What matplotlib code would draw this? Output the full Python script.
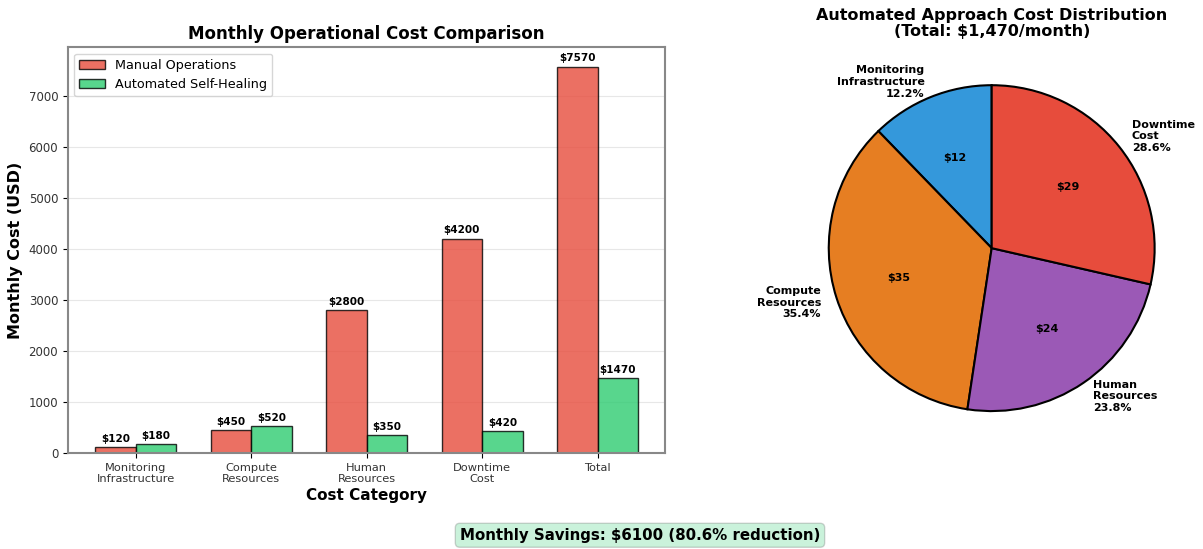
import numpy as np
import matplotlib.pyplot as plt

categories = ['Monitoring\nInfrastructure', 'Compute\nResources', 'Human\nResources', 'Downtime\nCost', 'Total']
manual = [120, 450, 2800, 4200, 7570]
automated = [180, 520, 350, 420, 1470]

pie_labels = ['Monitoring\nInfrastructure', 'Compute\nResources', 'Human\nResources', 'Downtime\nCost']
pie_values = [180, 520, 350, 420]
pie_colors = ['#3498db', '#e67e22', '#9b59b6', '#e74c3c']

fig = plt.figure(figsize=(12.03, 5.49), dpi=100)

# bar chart
ax1 = fig.add_axes([0.0565, 0.175, 0.4965, 0.739])
x = np.arange(len(categories))
w = 0.35
b1 = ax1.bar(x - w/2, manual, w, label='Manual Operations', color='#e74c3c', alpha=0.8,
             edgecolor='black', linewidth=1)
b2 = ax1.bar(x + w/2, automated, w, label='Automated Self-Healing', color='#2ecc71', alpha=0.8,
             edgecolor='black', linewidth=1)
for bars in (b1, b2):
    for b in bars:
        h = b.get_height()
        ax1.text(b.get_x() + b.get_width()/2, h + 60, f'${h:.0f}', ha='center', va='bottom',
                 fontsize=7.5, fontweight='bold')

ax1.set_xticks(x)
ax1.set_xticklabels(categories, fontsize=8.2, color='#333333', linespacing=1.15)
ax1.tick_params(axis='y', labelsize=8.5, labelcolor='#333333')
ax1.set_xlabel('Cost Category', fontsize=11, fontweight='bold', labelpad=3)
ax1.set_ylabel('Monthly Cost (USD)', fontsize=11.5, fontweight='bold')
ax1.set_title('Monthly Operational Cost Comparison', fontsize=12, fontweight='bold')
ax1.legend(loc='upper left', fontsize=9.2)
ax1.grid(axis='y', alpha=0.3)
ax1.set_axisbelow(True)
for s in ax1.spines.values():
    s.set_color('#888888')
    s.set_linewidth(1.5)

# pie chart
ax2 = fig.add_axes([0.655, 0.177, 0.3387, 0.742])
total = sum(pie_values)
pct_labels = [f'{l}\n{v/total*100:.1f}%' for l, v in zip(pie_labels, pie_values)]
wedges, texts, autotexts = ax2.pie(pie_values, labels=pct_labels, colors=pie_colors,
                                   autopct=lambda p: f'${p:.0f}', startangle=90,
                                   wedgeprops=dict(edgecolor='black', linewidth=1.5),
                                   textprops=dict(fontsize=8, fontweight='bold'))
for t in autotexts:
    t.set_fontsize(8)
ax2.set_title(f'Automated Approach Cost Distribution\n(Total: ${total:,}/month)',
              fontsize=11.5, fontweight='bold', linespacing=1.1)

savings = sum(manual[:4]) - sum(automated[:4])
fig.text(0.532, 0.025, f'Monthly Savings: ${savings} ({savings/manual[4]*100:.1f}% reduction)',
         ha='center', va='center', fontsize=10.8, fontweight='bold',
         bbox=dict(boxstyle='round,pad=0.3', facecolor='#2ecc71', alpha=0.25, edgecolor='#555555'))

plt.savefig('out.png')
